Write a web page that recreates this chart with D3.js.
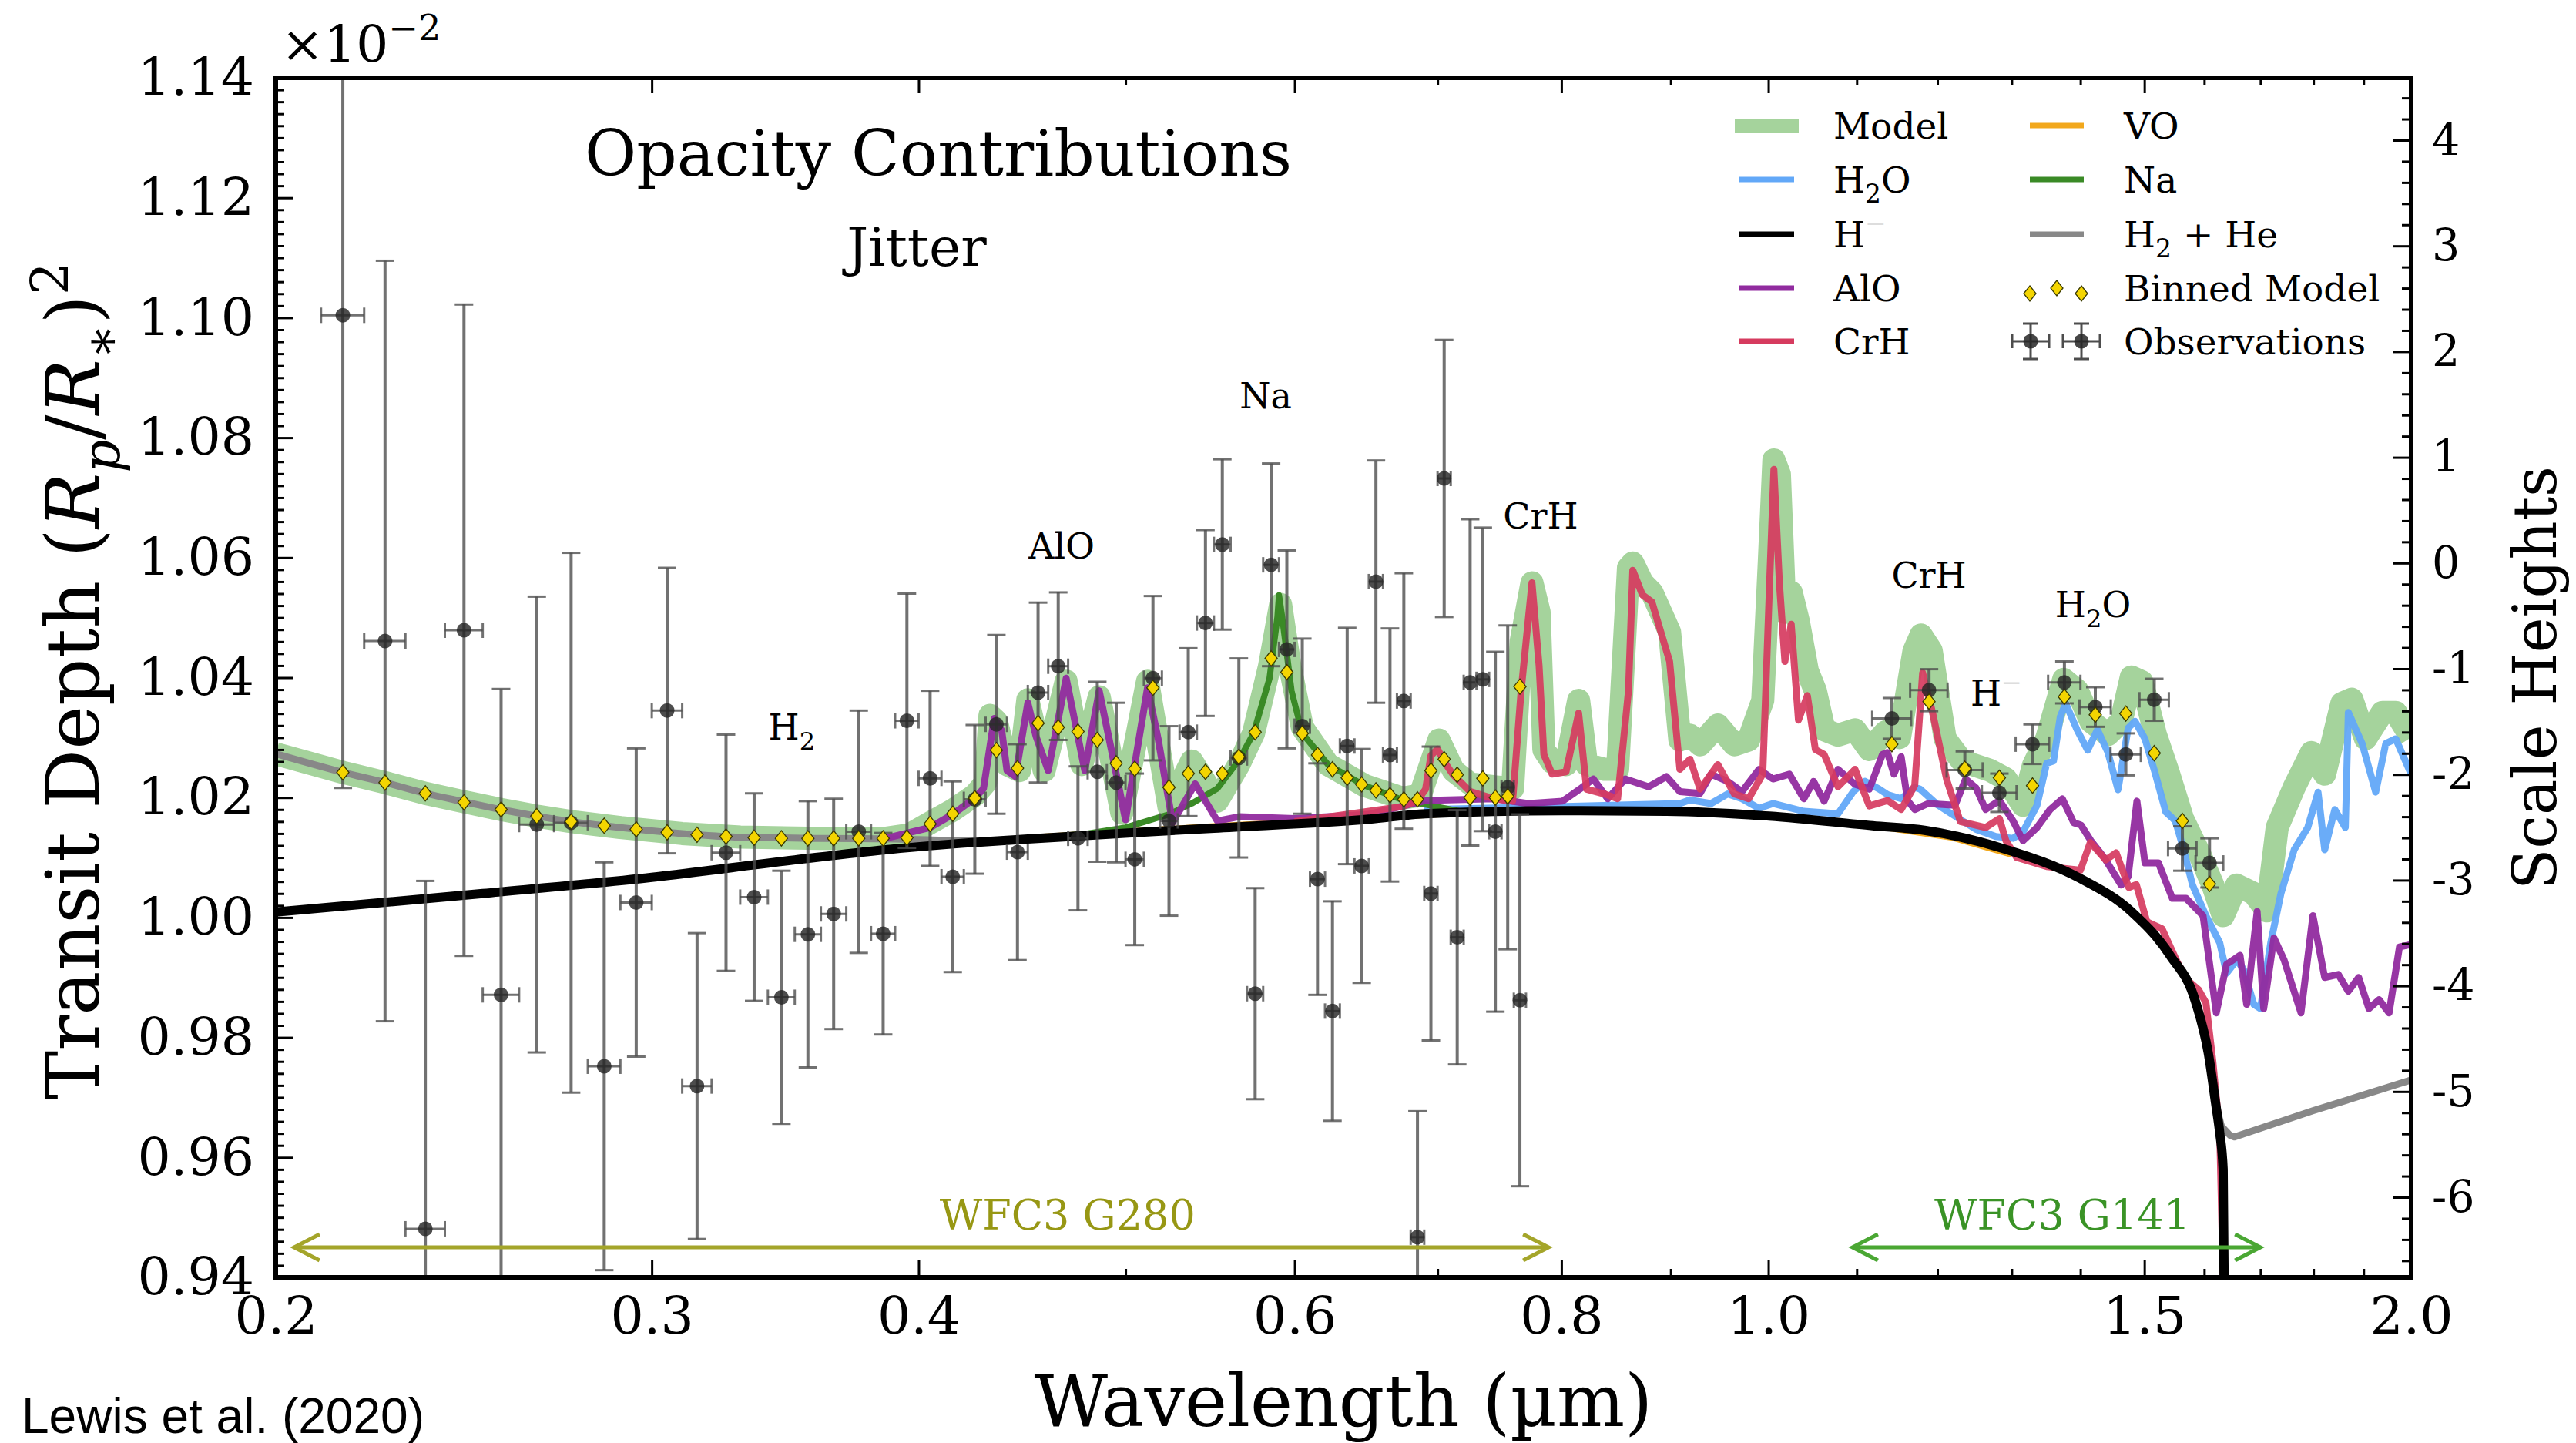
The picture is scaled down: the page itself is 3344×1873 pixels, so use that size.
<!DOCTYPE html>
<html><head><meta charset="utf-8">
<script src="https://cdn.jsdelivr.net/npm/d3@7"></script>
<style>body{margin:0;background:#fff}svg{display:block}</style>
</head><body>
<svg id="c" width="3344" height="1873"></svg>
<script>
// ---------------- DATA ----------------
// Observations (WFC3 G280 + G141), transit depth in units of 1e-2
const obsWave = [0.215,0.225,0.235,0.245,0.255,0.265,0.275,0.285,0.295,0.305,0.315,0.325,0.335,0.345,0.355,0.365,0.375,0.385,0.395,0.405,0.415,
  0.425,0.435,0.445,0.455,0.465,0.475,0.485,0.495,0.505,0.515,0.524,0.535,0.545,0.555,0.565,0.575,0.585,0.595,0.605,0.615,0.625,0.635,0.645,0.655,0.665,0.675,0.685,0.695,0.705,0.715,
  0.725,0.735,0.745,0.755,0.765,
  1.1425,1.1892,1.2360,1.2829,1.3296,1.3761,1.4227,1.4703,1.5161,1.5628,1.6092];
const obsDepth = [1.1004,1.0461,0.9481,1.0479,0.9871,1.0155,1.0158,0.9752,1.0025,1.0345,0.9719,1.0108,1.0034,0.9867,0.9972,1.0006,1.0143,0.9973,1.0328,1.0232,1.0068,
  1.0197,1.0322,1.0109,1.0375,1.0419,1.0132,1.0243,1.0225,1.0097,1.0399,1.0161,1.0309,1.0491,1.0622,1.0266,0.9873,1.0588,1.0447,1.0319,1.0064,0.9844,1.0286,1.0086,1.0560,1.0271,1.0361,0.9467,1.0040,1.0732,0.9967,
  1.0392,1.0397,1.0143,1.0217,0.9862,
  1.0332,1.0379,1.0246,1.0208,1.0289,1.0392,1.0351,1.0272,1.0363,1.0115,1.0091];
const obsErr = [0.0788,0.0634,0.058,0.0543,0.051,0.038,0.045,0.034,0.0257,0.0238,0.0255,0.0197,0.0173,0.0211,0.0222,0.0192,0.0202,0.0168,0.0212,0.0146,0.0159,
  0.0124,0.0149,0.018,0.015,0.0123,0.012,0.015,0.0133,0.0143,0.0137,0.0158,0.014,0.0155,0.0142,0.0166,0.0176,0.0169,0.0165,0.0146,0.0193,0.0183,0.0197,0.0195,0.0202,0.0211,0.0213,0.021,0.0245,0.0231,0.0212,
  0.0272,0.0253,0.030,0.027,0.031,
  0.0034,0.0035,0.0031,0.0032,0.0033,0.0035,0.0033,0.0035,0.0035,0.0037,0.0041];
const obsWaveErr = [0.005,0.005,0.005,0.005,0.005,0.005,0.005,0.005,0.005,0.005,0.005,0.005,0.005,0.005,0.005,0.005,0.005,0.005,0.005,0.005,0.005,
  0.005,0.005,0.005,0.005,0.005,0.005,0.005,0.005,0.005,0.005,0.005,0.005,0.005,0.005,0.005,0.005,0.005,0.005,0.005,0.005,0.005,0.005,0.005,0.005,0.005,0.005,0.005,0.005,0.005,0.005,
  0.005,0.005,0.005,0.005,0.005,
  0.024,0.024,0.024,0.024,0.024,0.024,0.024,0.024,0.024,0.024,0.024];
const binnedModel = [1.0242,1.0225,1.0207,1.0192,1.0180,1.0169,1.0160,1.0153,1.0147,1.0142,1.0138,1.0135,1.0133,1.0132,1.0132,1.0132,1.0132,1.0132,1.0133,1.0156,1.0173,
  1.0199,1.0279,1.0249,1.0324,1.0317,1.0310,1.0296,1.0257,1.0248,1.0383,1.0217,1.0240,1.0243,1.0240,1.0268,1.0309,1.0432,1.0409,1.0307,1.0271,1.0247,1.0233,1.0222,1.0212,1.0204,1.0197,1.0197,1.0245,1.0264,1.0238,
  1.0200,1.0232,1.0200,1.0202,1.0385,
  1.0289,1.0360,1.0248,1.0233,1.0220,1.0368,1.0338,1.0340,1.0274,1.0161,1.0056];

// Model spectra: [wavelength (um), transit depth (1e-2)]
const modelSpec = [[0.200,1.0273],[0.215,1.0242],[0.225,1.0225],[0.235,1.0207],[0.245,1.0193],[0.255,1.0180],[0.265,1.0169],[0.275,1.0160],[0.290,1.0150],[0.310,1.0140],[0.330,1.0134],[0.360,1.0132],[0.386,1.0132],[0.396,1.0138],[0.405,1.0158],[0.415,1.0179],[0.425,1.0204],[0.430,1.0225],[0.432,1.0337],[0.435,1.0327],[0.440,1.0255],[0.446,1.0245],[0.450,1.0363],[0.458,1.0245],[0.469,1.0394],[0.477,1.0255],[0.486,1.0368],[0.498,1.0174],[0.512,1.0394],[0.524,1.0184],[0.537,1.0261],[0.552,1.0194],[0.565,1.0255],[0.574,1.0307],[0.584,1.0419],[0.591,1.0522],[0.597,1.0419],[0.605,1.0317],[0.622,1.0255],[0.647,1.0220],[0.674,1.0199],[0.687,1.0204],[0.701,1.0296],[0.712,1.0245],[0.725,1.0223],[0.744,1.0218],[0.759,1.0215],[0.766,1.0460],[0.775,1.0558],[0.781,1.0509],[0.785,1.0280],[0.792,1.0259],[0.804,1.0255],[0.815,1.0362],[0.822,1.0255],[0.838,1.0247],[0.850,1.0247],[0.860,1.0583],[0.864,1.0591],[0.873,1.0558],[0.882,1.0542],[0.899,1.0476],[0.909,1.0296],[0.919,1.0304],[0.929,1.0288],[0.947,1.0321],[0.964,1.0288],[0.979,1.0296],[0.994,1.0362],[1.001,1.0591],[1.006,1.0763],[1.012,1.0739],[1.018,1.0509],[1.025,1.0542],[1.033,1.0493],[1.043,1.0411],[1.052,1.0378],[1.062,1.0313],[1.078,1.0304],[1.098,1.0313],[1.115,1.0280],[1.135,1.0310],[1.152,1.0300],[1.170,1.0444],[1.179,1.0471],[1.192,1.0445],[1.210,1.0298],[1.232,1.0261],[1.269,1.0246],[1.292,1.0231],[1.316,1.0187],[1.331,1.0254],[1.350,1.0298],[1.375,1.0397],[1.395,1.0379],[1.416,1.0327],[1.442,1.0305],[1.463,1.0327],[1.479,1.0401],[1.496,1.0393],[1.518,1.0305],[1.540,1.0239],[1.563,1.0165],[1.592,1.0106],[1.615,1.0054],[1.633,1.0003],[1.657,1.0054],[1.688,1.0040],[1.712,1.0011],[1.731,1.0150],[1.763,1.0217],[1.796,1.0275],[1.822,1.0239],[1.856,1.0357],[1.876,1.0364],[1.904,1.0298],[1.939,1.0342],[1.967,1.0342],[2.000,1.0300]];
const h2oSpec = [[0.690,1.0180],[0.800,1.0185],[0.909,1.0190],[0.919,1.0196],[0.940,1.0190],[0.957,1.0206],[0.972,1.0198],[0.990,1.0182],[1.005,1.0190],[1.039,1.0177],[1.078,1.0173],[1.096,1.0210],[1.110,1.0227],[1.127,1.0214],[1.137,1.0205],[1.154,1.0198],[1.171,1.0217],[1.178,1.0214],[1.201,1.0187],[1.223,1.0169],[1.251,1.0147],[1.278,1.0135],[1.302,1.0132],[1.316,1.0143],[1.336,1.0187],[1.350,1.0257],[1.360,1.0261],[1.370,1.0335],[1.378,1.0357],[1.395,1.0313],[1.411,1.0279],[1.426,1.0313],[1.442,1.0276],[1.458,1.0213],[1.474,1.0316],[1.485,1.0327],[1.501,1.0298],[1.518,1.0239],[1.535,1.0176],[1.551,1.0161],[1.563,1.0120],[1.580,1.0054],[1.603,1.0003],[1.627,0.9958],[1.639,0.9907],[1.657,0.9929],[1.669,0.9914],[1.688,0.9855],[1.700,0.9848],[1.719,0.9958],[1.738,1.0040],[1.763,1.0113],[1.789,1.0150],[1.809,1.0209],[1.822,1.0113],[1.842,1.0180],[1.863,1.0150],[1.869,1.0342],[1.897,1.0290],[1.925,1.0209],[1.946,1.0290],[1.967,1.0298],[2.000,1.0239]];
const hMinusSpec = [[0.200,1.0009],[0.250,1.0040],[0.300,1.0067],[0.350,1.0096],[0.386,1.0113],[0.420,1.0124],[0.450,1.0131],[0.550,1.0149],[0.650,1.0164],[0.691,1.0173],[0.800,1.0178],[0.896,1.0177],[1.001,1.0169],[1.119,1.0153],[1.185,1.0145],[1.288,1.0115],[1.400,1.0065],[1.479,1.0010],[1.542,0.9937],[1.585,0.9860],[1.607,0.9774],[1.620,0.9689],[1.627,0.9641],[1.633,0.9580],[1.6355,0.9300]];
const aloSpec = [[0.386,1.0132],[0.405,1.0150],[0.415,1.0172],[0.425,1.0199],[0.429,1.0215],[0.434,1.0332],[0.4375,1.0312],[0.440,1.0245],[0.444,1.0235],[0.450,1.0358],[0.454,1.0302],[0.460,1.0245],[0.469,1.0399],[0.4785,1.0245],[0.486,1.0378],[0.492,1.0286],[0.500,1.0163],[0.512,1.0383],[0.518,1.0296],[0.526,1.0158],[0.539,1.0223],[0.552,1.0161],[0.565,1.0168],[0.600,1.0165],[0.650,1.0172],[0.691,1.0195],[0.744,1.0198],[0.772,1.0190],[0.801,1.0194],[0.816,1.0214],[0.828,1.0231],[0.841,1.0198],[0.857,1.0231],[0.879,1.0218],[0.896,1.0235],[0.909,1.0210],[0.929,1.0207],[0.940,1.0239],[0.957,1.0227],[0.972,1.0210],[0.990,1.0247],[1.005,1.0231],[1.023,1.0239],[1.039,1.0198],[1.050,1.0227],[1.062,1.0194],[1.078,1.0247],[1.098,1.0222],[1.115,1.0214],[1.131,1.0272],[1.137,1.0275],[1.145,1.0239],[1.154,1.0268],[1.162,1.0195],[1.171,1.0180],[1.188,1.0190],[1.223,1.0187],[1.237,1.0231],[1.251,1.0216],[1.264,1.0180],[1.283,1.0195],[1.302,1.0161],[1.316,1.0128],[1.336,1.0150],[1.355,1.0180],[1.373,1.0198],[1.390,1.0158],[1.401,1.0154],[1.416,1.0128],[1.437,1.0099],[1.463,1.0054],[1.474,1.0068],[1.488,1.0194],[1.501,1.0091],[1.523,1.0091],[1.546,1.0032],[1.569,1.0032],[1.598,1.0003],[1.621,0.9841],[1.639,0.9922],[1.663,0.9937],[1.675,0.9855],[1.694,1.0010],[1.706,0.9848],[1.725,0.9966],[1.744,0.9929],[1.776,0.9841],[1.799,1.0003],[1.822,0.9900],[1.849,0.9905],[1.869,0.9877],[1.890,0.9900],[1.911,0.9848],[1.932,0.9863],[1.953,0.9841],[1.975,0.9951],[2.000,0.9955]];
const crhSpec = [[0.600,1.0160],[0.674,1.0185],[0.685,1.0195],[0.691,1.0214],[0.695,1.0270],[0.700,1.0281],[0.705,1.0260],[0.7115,1.0239],[0.725,1.0210],[0.744,1.0198],[0.759,1.0194],[0.766,1.0378],[0.775,1.0558],[0.781,1.0419],[0.785,1.0272],[0.792,1.0239],[0.804,1.0243],[0.815,1.0341],[0.822,1.0214],[0.838,1.0206],[0.850,1.0198],[0.860,1.0378],[0.864,1.0579],[0.873,1.0538],[0.882,1.0526],[0.899,1.0427],[0.909,1.0247],[0.919,1.0264],[0.929,1.0214],[0.947,1.0255],[0.964,1.0206],[0.979,1.0198],[0.994,1.0239],[1.001,1.0542],[1.006,1.0747],[1.012,1.0558],[1.018,1.0427],[1.025,1.0489],[1.033,1.0329],[1.043,1.0370],[1.052,1.0280],[1.062,1.0272],[1.078,1.0218],[1.098,1.0247],[1.115,1.0186],[1.137,1.0195],[1.154,1.0180],[1.171,1.0220],[1.181,1.0408],[1.194,1.0340],[1.212,1.0230],[1.230,1.0160],[1.264,1.0150],[1.283,1.0165],[1.292,1.0128],[1.307,1.0100],[1.350,1.0085],[1.400,1.0079],[1.415,1.0125],[1.439,1.0096],[1.455,1.0108],[1.475,1.0050],[1.487,1.0055],[1.504,0.9993],[1.529,0.9981],[1.555,0.9924],[1.572,0.9895],[1.590,0.9880],[1.603,0.9858],[1.615,0.9760],[1.627,0.9641],[1.6355,0.9300]];
const naSpec = [[0.450,1.0131],[0.480,1.0140],[0.500,1.0150],[0.524,1.0172],[0.537,1.0190],[0.552,1.0215],[0.565,1.0262],[0.574,1.0307],[0.584,1.0399],[0.589,1.0501],[0.590,1.0537],[0.592,1.0501],[0.598,1.0378],[0.605,1.0307],[0.622,1.0255],[0.647,1.0220],[0.674,1.0196],[0.701,1.0184],[0.720,1.0176],[0.800,1.0178]];
const voSpec = [[0.45,1.0133],[0.55,1.0152],[0.65,1.0166],[0.75,1.0177],[0.90,1.0178],[1.00,1.0170],[1.12,1.0153],[1.22,1.0133],[1.30,1.0105]];
const h2heShortSpec = [[0.200,1.0273],[0.215,1.0242],[0.225,1.0225],[0.235,1.0207],[0.245,1.0193],[0.255,1.0180],[0.265,1.0169],[0.275,1.0160],[0.290,1.0150],[0.310,1.0140],[0.330,1.0134],[0.360,1.0132],[0.390,1.0131],[0.410,1.0129],[0.430,1.0127]];
const h2heLongSpec = [[1.620,0.9689],[1.630,0.9652],[1.645,0.9637],[1.653,0.9634],[1.800,0.9678],[2.000,0.9729]];

// Axes / ticks
const xMajorTicks = [0.2,0.3,0.4,0.6,0.8,1.0,1.5,2.0];
const xMinorTicks = [0.5,0.7,0.9,1.1,1.2,1.3,1.4,1.6,1.7,1.8,1.9];
const yMajorTicks = [0.94,0.96,0.98,1.00,1.02,1.04,1.06,1.08,1.10,1.12,1.14];
const yMinorTicks = d3.range(0,101).map(i => +(0.94 + i*0.002).toFixed(3)).filter(v => Math.round(v*1000)%20 !== 0);
const shMajorTicks = [-6,-5,-4,-3,-2,-1,0,1,2,3,4];
const shMinorTicks = d3.range(-33,23).map(i => +(i*0.2).toFixed(1)).filter(v => Math.abs(v - Math.round(v)) > 1e-6);
const scaleHeightZero = 1.0591, scaleHeightStep = 0.017624; // depth at 0 scale heights, depth per scale height
const g280Range = [0.204, 0.789], g280LabelWave = 0.4697;
const g141Range = [1.095, 1.700], g141LabelWave = 1.3729;
const featureLabels = [
  {wave:0.3489, depth:1.0297, anchor:"middle", parts:[{t:"H"},{t:"2",sub:true}]},
  {wave:0.4667, depth:1.0598, anchor:"middle", parts:[{t:"AlO"}]},
  {wave:0.5816, depth:1.0849, anchor:"middle", parts:[{t:"Na"}]},
  {wave:0.7823, depth:1.0649, anchor:"middle", parts:[{t:"CrH"}]},
  {wave:1.1891, depth:1.0550, anchor:"middle", parts:[{t:"CrH"}]},
  {wave:1.2436, depth:1.0353, anchor:"start",  parts:[{t:"H"},{t:"\u2212",sup:true,fill:"#dddddd"}]},
  {wave:1.4192, depth:1.0501, anchor:"middle", parts:[{t:"H"},{t:"2",sub:true},{t:"O"}]}
];

// ---------------- DRAWING ----------------
const M = {left:358, right:3130, top:101, bottom:1658};
const serif = "'DejaVu Serif', serif";
const svg = d3.select("#c");
svg.append("rect").attr("width",3344).attr("height",1873).attr("fill","#fff");

const x = d3.scaleLog().domain([0.2,2.0]).range([M.left,M.right]);
const y = d3.scaleLinear().domain([0.94,1.14]).range([M.bottom,M.top]);
const yR = d3.scaleLinear()
  .domain([(0.94-scaleHeightZero)/scaleHeightStep,(1.14-scaleHeightZero)/scaleHeightStep])
  .range([M.bottom,M.top]);

svg.append("defs").append("clipPath").attr("id","plotclip")
  .append("rect").attr("x",M.left).attr("y",M.top).attr("width",M.right-M.left).attr("height",M.bottom-M.top);

const plot = svg.append("g").attr("clip-path","url(#plotclip)");
const line = d3.line().x(d=>x(d[0])).y(d=>y(d[1]));
const smooth = d3.line().x(d=>x(d[0])).y(d=>y(d[1])).curve(d3.curveMonotoneX);

function drawSpec(data, color, width, gen, opacity){
  plot.append("path").datum(data).attr("d",gen||line)
    .attr("fill","none").attr("stroke",color).attr("stroke-width",width)
    .attr("stroke-linejoin","round").attr("stroke-linecap","butt")
    .attr("stroke-opacity",opacity==null?1:opacity);
}
const C = {model:"#a5d39c", h2o:"#62a8f8", hm:"#000000", alo:"#912b9f", crh:"#d63b5f", vo:"#f2a81c", na:"#3a8a26", h2he:"#888888"};

drawSpec(modelSpec, C.model, 30);
drawSpec(h2heShortSpec, C.h2he, 9, smooth);
drawSpec(h2heLongSpec, C.h2he, 9);
drawSpec(h2oSpec, C.h2o, 9, line, 0.95);
drawSpec(voSpec, C.vo, 8);
drawSpec(naSpec, C.na, 8);
drawSpec(aloSpec, C.alo, 9, line, 0.95);
drawSpec(crhSpec, C.crh, 9, line, 0.92);
drawSpec(hMinusSpec, C.hm, 12, smooth);

// observations
const obs = obsWave.map((w,i)=>({w, d:obsDepth[i], e:obsErr[i], we:obsWaveErr[i], b:binnedModel[i]}));
const og = plot.append("g");
const ebColor = "#4d4d4d";
obs.forEach(o=>{
  const cx = x(o.w), cy = y(o.d), y1 = y(o.d+o.e), y2 = y(o.d-o.e), x1 = x(o.w-o.we), x2 = x(o.w+o.we);
  const g = og.append("g").attr("stroke",ebColor).attr("stroke-opacity",0.8);
  g.append("line").attr("x1",cx).attr("x2",cx).attr("y1",y1).attr("y2",y2).attr("stroke-width",4);
  g.append("line").attr("x1",cx-12).attr("x2",cx+12).attr("y1",y1).attr("y2",y1).attr("stroke-width",3);
  g.append("line").attr("x1",cx-12).attr("x2",cx+12).attr("y1",y2).attr("y2",y2).attr("stroke-width",3);
  g.append("line").attr("x1",x1).attr("x2",x2).attr("y1",cy).attr("y2",cy).attr("stroke-width",3);
  g.append("line").attr("x1",x1).attr("x2",x1).attr("y1",cy-10).attr("y2",cy+10).attr("stroke-width",3);
  g.append("line").attr("x1",x2).attr("x2",x2).attr("y1",cy-10).attr("y2",cy+10).attr("stroke-width",3);
  og.append("circle").attr("cx",cx).attr("cy",cy).attr("r",9.5)
    .attr("fill","#262626").attr("fill-opacity",0.82);
});
const diamond = "M0,-10L8,0L0,10L-8,0Z";
obs.forEach(o=>{
  plot.append("path").attr("d",diamond).attr("transform",`translate(${x(o.w)},${y(o.b)})`)
    .attr("fill","#f4d500").attr("stroke","#3a3a00").attr("stroke-width",1.3);
});

// rich text helper
function rich(parent, px, py, parts, size, anchor, fill){
  const t = parent.append("text").attr("x",px).attr("y",py).attr("font-family",serif)
    .attr("font-size",size).attr("text-anchor",anchor||"start").attr("fill",fill||"#000");
  let shift = 0;
  parts.forEach(p=>{
    const ts = t.append("tspan").text(p.t);
    const target = p.sub ? size*0.28 : (p.sup ? -size*0.42 : 0);
    if (target-shift !== 0) ts.attr("dy", target-shift);
    shift = target;
    if (p.sub || p.sup) ts.attr("font-size", size*0.7);
    if (p.it) ts.attr("font-style","italic");
    if (p.fill) ts.attr("fill", p.fill);
  });
  return t;
}

// feature labels
featureLabels.forEach(f=>{ rich(svg, x(f.wave), y(f.depth), f.parts, 46, f.anchor); });

// instrument ranges
function rangeArrow(r, labelWave, py, color, label, labelColor){
  const g = svg.append("g").attr("stroke",color).attr("stroke-width",5).attr("fill","none");
  const a = x(r[0]), b = x(r[1]);
  g.append("line").attr("x1",a).attr("x2",b).attr("y1",py).attr("y2",py);
  g.append("polyline").attr("points",`${a+33},${py-17} ${a},${py} ${a+33},${py+17}`);
  g.append("polyline").attr("points",`${b-33},${py-17} ${b},${py} ${b-33},${py+17}`);
  svg.append("text").attr("x",x(labelWave)).attr("y",py-23).attr("text-anchor","middle")
    .attr("font-family",serif).attr("font-size",54).attr("fill",labelColor).text(label);
}
rangeArrow(g280Range, g280LabelWave, 1619, "#a4a52a", "WFC3 G280", "#979714");
rangeArrow(g141Range, g141LabelWave, 1619, "#4aa733", "WFC3 G141", "#3a9326");

// axes
function styleAxis(g, size){
  g.attr("font-family",serif).attr("font-size",size);
  g.select(".domain").remove();
  g.selectAll(".tick line").attr("stroke","#000").attr("stroke-width",3);
  g.selectAll(".tick text").attr("fill","#000");
}
const gxb = svg.append("g").attr("transform",`translate(0,${M.bottom})`)
  .call(d3.axisBottom(x).tickValues(xMajorTicks).tickFormat(d3.format(".1f")).tickSize(-23).tickSizeOuter(0).tickPadding(25));
styleAxis(gxb, 68);
const gxbm = svg.append("g").attr("transform",`translate(0,${M.bottom})`)
  .call(d3.axisBottom(x).tickValues(xMinorTicks).tickFormat("").tickSize(-11).tickSizeOuter(0));
styleAxis(gxbm, 10);
const gxt = svg.append("g").attr("transform",`translate(0,${M.top})`)
  .call(d3.axisTop(x).tickValues(xMajorTicks).tickFormat("").tickSize(-20).tickSizeOuter(0));
styleAxis(gxt, 10);
const gxtm = svg.append("g").attr("transform",`translate(0,${M.top})`)
  .call(d3.axisTop(x).tickValues(xMinorTicks).tickFormat("").tickSize(-9).tickSizeOuter(0));
styleAxis(gxtm, 10);
const gyl = svg.append("g").attr("transform",`translate(${M.left},0)`)
  .call(d3.axisLeft(y).tickValues(yMajorTicks).tickFormat(d3.format(".2f")).tickSize(-23).tickSizeOuter(0).tickPadding(28));
styleAxis(gyl, 68);
const gylm = svg.append("g").attr("transform",`translate(${M.left},0)`)
  .call(d3.axisLeft(y).tickValues(yMinorTicks).tickFormat("").tickSize(-11).tickSizeOuter(0));
styleAxis(gylm, 10);
const gyr = svg.append("g").attr("transform",`translate(${M.right},0)`)
  .call(d3.axisRight(yR).tickValues(shMajorTicks).tickFormat(d=> d<0 ? "-"+Math.abs(d) : String(d)).tickSize(-23).tickSizeOuter(0).tickPadding(27));
styleAxis(gyr, 57);
const gyrm = svg.append("g").attr("transform",`translate(${M.right},0)`)
  .call(d3.axisRight(yR).tickValues(shMinorTicks.filter(v=>v>yR.domain()[0] && v<yR.domain()[1])).tickFormat("").tickSize(-12).tickSizeOuter(0));
styleAxis(gyrm, 10);

// frame
svg.append("rect").attr("x",M.left).attr("y",M.top).attr("width",M.right-M.left).attr("height",M.bottom-M.top)
  .attr("fill","none").attr("stroke","#000").attr("stroke-width",6);

// multiplier
rich(svg, 365, 80, [{t:"\u00d710"},{t:"\u22122",sup:true}], 66, "start");

// axis labels
svg.append("text").attr("x",(M.left+M.right)/2).attr("y",1851).attr("text-anchor","middle")
  .attr("font-family",serif).attr("font-size",93).text("Wavelength (\u00b5m)");
const yl = svg.append("g").attr("transform","translate(128,884) rotate(-90)");
rich(yl, 0, 0, [{t:"Transit Depth ("},{t:"R",it:true},{t:"p",sub:true,it:true},{t:"/"},{t:"R",it:true},{t:"\u2217",sub:true},{t:")"},{t:"2",sup:true}], 96, "middle");
svg.append("g").attr("transform","translate(3318,880) rotate(-90)")
  .append("text").attr("text-anchor","middle").attr("font-family",serif).attr("font-size",78).text("Scale Heights");

// titles
svg.append("text").attr("x",1218).attr("y",228).attr("text-anchor","middle").attr("font-family",serif).attr("font-size",82).text("Opacity Contributions");
svg.append("text").attr("x",1190).attr("y",345).attr("text-anchor","middle").attr("font-family",serif).attr("font-size",70).text("Jitter");

// legend
const leg = svg.append("g");
const rows = [163,233,304,374,443];
const col1 = [
  {key:"model", parts:[{t:"Model"}]},
  {key:"h2o", parts:[{t:"H"},{t:"2",sub:true},{t:"O"}]},
  {key:"hm", parts:[{t:"H"},{t:"\u2212",sup:true,fill:"#dddddd"}]},
  {key:"alo", parts:[{t:"AlO"}]},
  {key:"crh", parts:[{t:"CrH"}]}
];
const col2 = [
  {key:"vo", parts:[{t:"VO"}]},
  {key:"na", parts:[{t:"Na"}]},
  {key:"h2he", parts:[{t:"H"},{t:"2",sub:true},{t:" + He"}]},
  {key:"binned", parts:[{t:"Binned Model"}]},
  {key:"obs", parts:[{t:"Observations"}]}
];
col1.forEach((e,i)=>{
  const ry = rows[i];
  if (e.key==="model") leg.append("rect").attr("x",2252).attr("y",ry-9).attr("width",83).attr("height",18).attr("fill",C.model);
  else leg.append("line").attr("x1",2257).attr("x2",2329).attr("y1",ry).attr("y2",ry).attr("stroke",C[e.key]).attr("stroke-width",7);
  rich(leg, 2380, ry+17, e.parts, 47, "start");
});
col2.forEach((e,i)=>{
  const ry = rows[i];
  if (e.key==="binned"){
    [[2635,7],[2670,0],[2702,7]].forEach(p=>leg.append("path").attr("d",diamond).attr("transform",`translate(${p[0]},${ry+p[1]})`)
      .attr("fill","#f4d500").attr("stroke","#3a3a00").attr("stroke-width",1.3));
  } else if (e.key==="obs"){
    [2636,2702].forEach(cx=>{
      const g = leg.append("g").attr("stroke",ebColor);
      g.append("line").attr("x1",cx).attr("x2",cx).attr("y1",ry-23).attr("y2",ry+23).attr("stroke-width",3);
      g.append("line").attr("x1",cx-10).attr("x2",cx+10).attr("y1",ry-23).attr("y2",ry-23).attr("stroke-width",3);
      g.append("line").attr("x1",cx-10).attr("x2",cx+10).attr("y1",ry+23).attr("y2",ry+23).attr("stroke-width",3);
      g.append("line").attr("x1",cx-24).attr("x2",cx+24).attr("y1",ry).attr("y2",ry).attr("stroke-width",3);
      g.append("line").attr("x1",cx-24).attr("x2",cx-24).attr("y1",ry-9).attr("y2",ry+9).attr("stroke-width",3);
      g.append("line").attr("x1",cx+24).attr("x2",cx+24).attr("y1",ry-9).attr("y2",ry+9).attr("stroke-width",3);
      leg.append("circle").attr("cx",cx).attr("cy",ry).attr("r",9.5).attr("fill","#262626").attr("fill-opacity",0.85);
    });
  } else {
    leg.append("line").attr("x1",2635).attr("x2",2705).attr("y1",ry).attr("y2",ry).attr("stroke",C[e.key]).attr("stroke-width",7);
  }
  rich(leg, 2757, ry+17, e.parts, 47, "start");
});

// credit
svg.append("text").attr("x",28).attr("y",1860).attr("font-family","'Liberation Sans', Arial, sans-serif")
  .attr("font-size",64).attr("fill","#000").text("Lewis et al. (2020)");
</script>
</body></html>
